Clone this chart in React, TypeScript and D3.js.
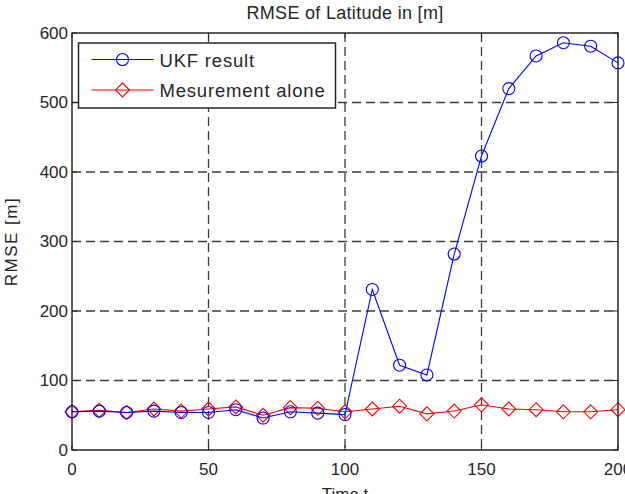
import * as d3 from "d3";

// time steps and RMSE per filter run
const times = [0, 10, 20, 30, 40, 50, 60, 70, 80, 90, 100, 110, 120, 130, 140, 150, 160, 170, 180, 190, 200];
const ukfRmse = [55, 56, 54, 56, 54, 54, 58, 46, 55, 53, 51, 231, 122, 108, 282, 423, 520, 567, 586, 581, 557];
const measRmse = [55, 57, 54, 59, 56, 59, 62, 50, 61, 60, 55, 59, 63, 52, 56, 65, 59, 58, 55, 55, 58];
const xTicks = [0, 50, 100, 150, 200];
const yTicks = [0, 100, 200, 300, 400, 500, 600];
const seriesNames = ["UKF result", "Mesurement alone"];

const font = "Arial, 'Liberation Sans', Helvetica, sans-serif";
const axisColor = "#262626";

const App = () => {
  const width = 625;
  const height = 494;
  const margin = { top: 33, right: 7, bottom: 44, left: 72 };
  const w = width - margin.left - margin.right;
  const h = height - margin.top - margin.bottom;

  const x = d3.scaleLinear().domain([0, 200]).range([0, w]);
  const y = d3.scaleLinear().domain([0, 600]).range([h, 0]);

  const line = d3
    .line<number>()
    .x((d, i) => x(times[i]))
    .y((d) => y(d));

  const circle = (cx, cy, key, color) => (
    <circle key={key} cx={cx} cy={cy} r={6} fill="none" stroke={color} strokeWidth={1.1} />
  );
  const diamond = (cx, cy, key, color) => (
    <path
      key={key}
      d={`M${cx},${cy - 7}L${cx + 7},${cy}L${cx},${cy + 7}L${cx - 7},${cy}Z`}
      fill="none"
      stroke={color}
      strokeWidth={1.1}
    />
  );

  return (
    <svg
      width={width}
      height={height}
      style={{ position: "absolute", left: 0, top: 0, background: "#fff" }}
      fontFamily={font}
    >
      <text x={margin.left + w / 2} y={19} textAnchor="middle" fontSize={18} letterSpacing={0.3} fill={axisColor}>
        RMSE of Latitude in [m]
      </text>
      <g transform={`translate(${margin.left},${margin.top})`}>
        {/* dashed grid */}
        {yTicks.slice(1, -1).map((t) => (
          <line key={"gy" + t} x1={0} x2={w} y1={y(t)} y2={y(t)} stroke="#3a3a3a" strokeWidth={1.3} strokeDasharray="9,5" />
        ))}
        {xTicks.slice(1, -1).map((t) => (
          <line key={"gx" + t} x1={x(t)} x2={x(t)} y1={0} y2={h} stroke="#3a3a3a" strokeWidth={1.3} strokeDasharray="9,5" />
        ))}

        {/* ticks on all four sides */}
        {yTicks.map((t) => (
          <g key={"ty" + t}>
            <line x1={0} x2={5} y1={y(t)} y2={y(t)} stroke={axisColor} />
            <line x1={w} x2={w - 5} y1={y(t)} y2={y(t)} stroke={axisColor} />
            <text x={-4} y={y(t)} dy="0.35em" textAnchor="end" fontSize={17} fill={axisColor}>
              {t}
            </text>
          </g>
        ))}
        {xTicks.map((t) => (
          <g key={"tx" + t}>
            <line x1={x(t)} x2={x(t)} y1={h} y2={h - 5} stroke={axisColor} />
            <line x1={x(t)} x2={x(t)} y1={0} y2={5} stroke={axisColor} />
            <text x={x(t)} y={h + 25} textAnchor="middle" fontSize={17} fill={axisColor}>
              {t}
            </text>
          </g>
        ))}

        {/* measurement series */}
        <path d={line(measRmse)} fill="none" stroke="#ff0000" strokeWidth={1.1} />
        {measRmse.map((v, i) => diamond(x(times[i]), y(v), "m" + i, "#ff0000"))}

        {/* UKF series */}
        <path d={line(ukfRmse)} fill="none" stroke="#0000ff" strokeWidth={1.1} />
        {ukfRmse.map((v, i) => circle(x(times[i]), y(v), "u" + i, "#0000ff"))}

        <rect x={0} y={0} width={w} height={h} fill="none" stroke={axisColor} strokeWidth={1.5} />

        {/* legend */}
        <g transform="translate(6.5,10)">
          <rect x={0} y={0} width={257} height={65} fill="#fff" stroke={axisColor} strokeWidth={1.5} />
          <line x1={13} x2={75} y1={16.5} y2={16.5} stroke="#0000ff" />
          {circle(44, 16.5, "lc", "#0000ff")}
          <text x={81} y={23.5} fontSize={18.5} letterSpacing={0.8} fill={axisColor}>
            {seriesNames[0]}
          </text>
          <line x1={13} x2={75} y1={47} y2={47} stroke="#ff0000" />
          {diamond(44, 47, "ld", "#ff0000")}
          <text x={81} y={54} fontSize={18.5} letterSpacing={0.8} fill={axisColor}>
            {seriesNames[1]}
          </text>
        </g>
      </g>
      <text x={margin.left + w / 2} y={500} textAnchor="middle" fontSize={17} fill={axisColor}>
        Time t
      </text>
      <text
        transform={`translate(17,${margin.top + h / 2}) rotate(-90)`}
        textAnchor="middle"
        fontSize={17}
        letterSpacing={1.5}
        fill={axisColor}
      >
        RMSE [m]
      </text>
    </svg>
  );
};

export default App;
